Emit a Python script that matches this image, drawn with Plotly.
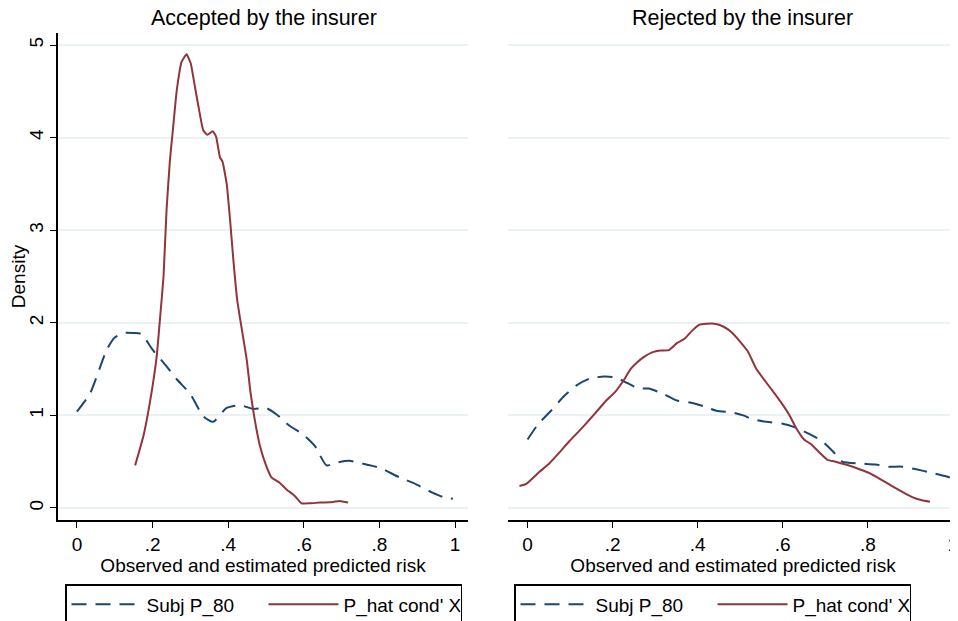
"""Kernel densities of subjective vs. estimated risk, by insurer decision."""

import plotly.graph_objects as go

BLUE = "#1A476F"
RED = "#90353B"
GRID = "#EAF2F3"
AXIS = "#000000"
FONT = "Liberation Sans, Arial, sans-serif"
PAGE_PAD = 8  # default body margin of the html page
W, H = 958 - PAGE_PAD, 621 - PAGE_PAD

# Accepted by the insurer
acc_subj_x = [0.0, 0.035, 0.079, 0.10, 0.123, 0.15, 0.17, 0.20, 0.237, 0.264, 0.30, 0.334,
              0.36, 0.396, 0.431, 0.466, 0.50, 0.528, 0.563, 0.598, 0.629, 0.66, 0.686,
              0.72, 0.765, 0.80, 0.853, 0.897, 0.94, 0.967, 0.994]
acc_subj_y = [1.04, 1.24, 1.71, 1.84, 1.89, 1.89, 1.88, 1.71, 1.53, 1.39, 1.23, 0.99,
              0.93, 1.08, 1.11, 1.07, 1.08, 1.01, 0.885, 0.795, 0.67, 0.46, 0.49,
              0.51, 0.47, 0.435, 0.33, 0.255, 0.165, 0.12, 0.10]
acc_phat_x = [0.154, 0.176, 0.193, 0.211, 0.22, 0.229, 0.237, 0.246, 0.253, 0.264, 0.277,
              0.29, 0.301, 0.312, 0.323, 0.334, 0.345, 0.359, 0.368, 0.378, 0.385, 0.396,
              0.405, 0.413, 0.424, 0.449, 0.459, 0.47, 0.484, 0.501, 0.515, 0.536,
              0.554, 0.576, 0.594, 0.616, 0.642, 0.677, 0.695, 0.717]
acc_phat_y = [0.46, 0.78, 1.14, 1.64, 2.06, 2.50, 3.22, 3.76, 4.05, 4.51, 4.82,
              4.90, 4.80, 4.55, 4.30, 4.08, 4.03, 4.07, 4.01, 3.79, 3.74, 3.50,
              3.11, 2.71, 2.24, 1.60, 1.245, 0.957, 0.67, 0.45, 0.327, 0.273,
              0.20, 0.13, 0.05, 0.05, 0.058, 0.065, 0.075, 0.058]

# Rejected by the insurer
rej_subj_x = [0.0, 0.024, 0.055, 0.086, 0.117, 0.148, 0.18, 0.207, 0.234, 0.261, 0.285,
              0.32, 0.351, 0.382, 0.413, 0.444, 0.483, 0.507, 0.53, 0.561, 0.60, 0.631,
              0.662, 0.693, 0.717, 0.74, 0.779, 0.818, 0.849, 0.88, 0.911, 0.95, 0.981, 1.005]
rej_subj_y = [0.74, 0.90, 1.05, 1.21, 1.33, 1.40, 1.42, 1.41, 1.35, 1.29, 1.29,
              1.23, 1.16, 1.14, 1.10, 1.05, 1.03, 1.00, 0.957, 0.93, 0.91, 0.867,
              0.80, 0.72, 0.615, 0.50, 0.48, 0.47, 0.446, 0.446, 0.42, 0.38, 0.345, 0.31]
rej_phat_x = [-0.019, -0.003, 0.028, 0.051, 0.075, 0.098, 0.121, 0.145, 0.164, 0.184, 0.207,
              0.226, 0.242, 0.258, 0.273, 0.293, 0.312, 0.332, 0.351, 0.37, 0.386, 0.404,
              0.421, 0.44, 0.46, 0.479, 0.499, 0.518, 0.538, 0.557, 0.577, 0.596, 0.616,
              0.631, 0.65, 0.666, 0.686, 0.705, 0.724, 0.748, 0.771, 0.802, 0.83, 0.857,
              0.88, 0.903, 0.927, 0.946]
rej_phat_y = [0.237, 0.26, 0.39, 0.48, 0.60, 0.72, 0.83, 0.95, 1.05, 1.155, 1.26,
              1.38, 1.50, 1.575, 1.63, 1.68, 1.70, 1.705, 1.78, 1.83, 1.91, 1.98,
              1.99, 1.99, 1.96, 1.90, 1.80, 1.69, 1.50, 1.38, 1.26, 1.14, 1.00,
              0.867, 0.74, 0.69, 0.60, 0.52, 0.50, 0.47, 0.435, 0.38, 0.31, 0.237,
              0.176, 0.12, 0.083, 0.068]

x_ticks = [0, 0.2, 0.4, 0.6, 0.8, 1]
x_labels = ["0", ".2", ".4", ".6", ".8", "1"]
y_ticks = [0, 1, 2, 3, 4, 5]

SUBJ = "Subj P_80"
PHAT = "P_hat cond' X"


def px_x(p):
    """Window pixel column -> paper x."""
    return (p - PAGE_PAD) / W


def px_y(p):
    """Window pixel row -> paper y."""
    return 1 - (p - PAGE_PAD) / H


fig = go.Figure()
panels = [
    ("x", "y", "legend", acc_subj_x, acc_subj_y, acc_phat_x, acc_phat_y),
    ("x2", "y2", "legend2", rej_subj_x, rej_subj_y, rej_phat_x, rej_phat_y),
]
for xa, ya, leg, sx, sy, px, py in panels:
    fig.add_trace(go.Scatter(
        x=sx, y=sy, xaxis=xa, yaxis=ya, legend=leg, name=SUBJ, mode="lines",
        line=dict(color=BLUE, width=2, dash="15px,9px", shape="spline", smoothing=0.6),
    ))
    fig.add_trace(go.Scatter(
        x=px, y=py, xaxis=xa, yaxis=ya, legend=leg, name=PHAT, mode="lines",
        line=dict(color=RED, width=2, shape="spline", smoothing=0.4),
    ))

y_dom = [px_y(520), px_y(33)]
common_x = dict(
    tickvals=x_ticks, ticktext=x_labels, showgrid=False, zeroline=False,
    showline=True, linecolor=AXIS, linewidth=1.5, ticks="outside", ticklen=6,
    tickcolor=AXIS, tickfont=dict(size=19, color="#000"), automargin=False,
    ticklabeloverflow="allow",
    title=dict(text="Observed and estimated predicted risk",
               font=dict(size=19, color="#000"), standoff=2),
)
common_y = dict(
    tickvals=y_ticks, range=[-0.13, 5.13], gridcolor=GRID, gridwidth=1.8,
    zeroline=False, automargin=False,
)

legend_style = dict(
    orientation="h", yanchor="top", y=px_y(584), xanchor="left",
    bordercolor="#000", borderwidth=1.5, bgcolor="white",
    font=dict(size=19, color="#000", family=FONT),
    entrywidth=112, itemwidth=70,
)

title_font = dict(size=21.5, color="#000")

fig.update_layout(
    width=W,
    height=H,
    paper_bgcolor="white",
    plot_bgcolor="white",
    font=dict(family=FONT, color="#000"),
    margin=dict(l=0, r=0, t=0, b=0, autoexpand=False),
    xaxis=dict(domain=[px_x(58), px_x(468)], range=[-0.05, 1.034], anchor="y", **common_x),
    xaxis2=dict(domain=[px_x(508), px_x(958)], range=[-0.046, 1.012], anchor="y2", **common_x),
    yaxis=dict(
        domain=y_dom, anchor="x", showline=True, linecolor=AXIS, linewidth=1.5,
        ticks="outside", ticklen=6, tickcolor=AXIS, tickangle=-90,
        tickfont=dict(size=19, color="#000"),
        title=dict(text="Density", font=dict(size=19, color="#000"), standoff=4),
        **common_y,
    ),
    yaxis2=dict(domain=y_dom, anchor="x2", showline=False, showticklabels=False,
                ticks="", **common_y),
    legend=dict(x=px_x(65), **legend_style),
    legend2=dict(x=px_x(514), **legend_style),
    annotations=[
        dict(text="Accepted by the insurer", x=px_x(264), y=px_y(18), xref="paper",
             yref="paper", xanchor="center", yanchor="middle", showarrow=False,
             font=title_font),
        dict(text="Rejected by the insurer", x=px_x(742), y=px_y(18), xref="paper",
             yref="paper", xanchor="center", yanchor="middle", showarrow=False,
             font=title_font),
    ],
)

fig.write_html("out.html")
